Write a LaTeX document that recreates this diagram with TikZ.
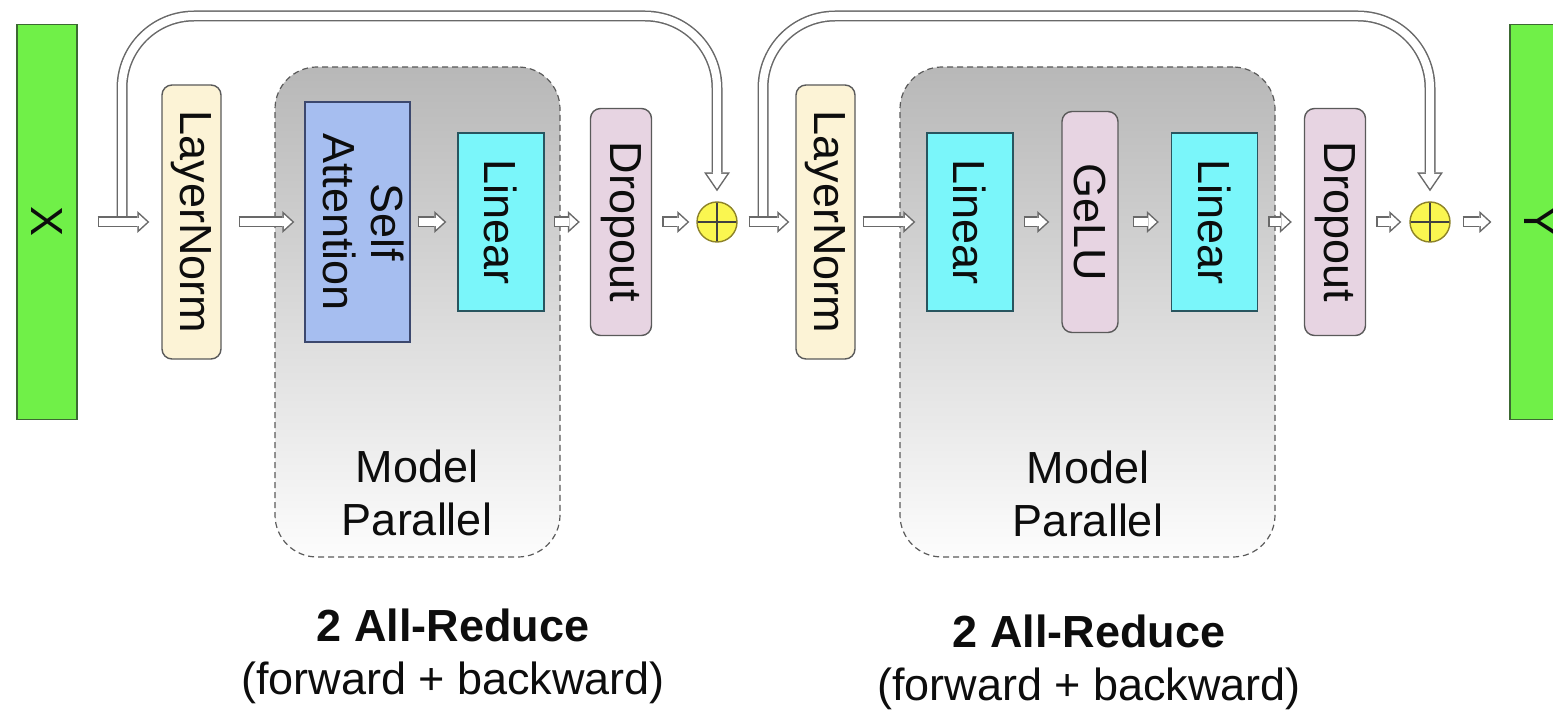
\documentclass[tikz,border=0pt]{standalone}
\usepackage{fontspec}
\setmainfont{Liberation Sans}
\usepackage{graphicx}
\usetikzlibrary{arrows.meta,calc}
\definecolor{inputgreen}{RGB}{112,240,72}
\definecolor{inputdraw}{RGB}{60,105,50}
\definecolor{normcream}{RGB}{252,243,214}
\definecolor{attnblue}{RGB}{166,190,240}
\definecolor{attndraw}{RGB}{60,72,110}
\definecolor{lincyan}{RGB}{122,246,250}
\definecolor{lindraw}{RGB}{40,85,95}
\definecolor{droppink}{RGB}{231,212,226}
\definecolor{sumyellow}{RGB}{250,246,80}
\definecolor{sumdraw}{RGB}{140,130,40}
\definecolor{boxdraw}{RGB}{90,90,90}
\definecolor{pipegray}{RGB}{105,105,105}
\colorlet{textdark}{black!95}

\tikzset{
  txt/.style={font=\fontsize{22.5}{26.5}\selectfont, text=textdark},
  iobox/.style={txt, draw=inputdraw, line width=0.6pt, fill=inputgreen, minimum width=30pt, minimum height=197.5pt, inner sep=0pt},
  normbox/.style={txt, draw=boxdraw, line width=0.7pt, rounded corners=5pt, fill=normcream, minimum width=29.5pt, minimum height=137pt, inner sep=0pt},
  attnbox/.style={txt, font=\fontsize{22.5}{24}\selectfont, draw=attndraw, line width=0.7pt, fill=attnblue, minimum width=52.5pt, minimum height=120pt, inner sep=0pt},
  linbox/.style={txt, draw=lindraw, line width=0.7pt, fill=lincyan, minimum width=43pt, minimum height=89pt, inner sep=0pt},
  dropbox/.style={txt, draw=boxdraw, line width=0.7pt, rounded corners=5pt, fill=droppink, minimum width=30.5pt, minimum height=113.5pt, inner sep=0pt},
  sumnode/.style={circle, draw=sumdraw, line width=0.7pt, fill=sumyellow, minimum size=20pt, inner sep=0pt,
    path picture={\draw[black!75, line width=0.6pt] (path picture bounding box.north) -- (path picture bounding box.south)
      (path picture bounding box.west) -- (path picture bounding box.east);}},
  mpbox/.style={draw=boxdraw, dash pattern=on 3pt off 2pt, line width=0.6pt, rounded corners=21pt,
    top color=black!28, middle color=black!12, bottom color=black!1},
  lbl/.style={txt, align=center},
  flow/.style={draw=pipegray, line width=5.5pt, -{Triangle[length=6pt,width=11pt,line width=0pt]},
    postaction={draw=white, line width=4pt, shorten <=0.75pt, shorten >=1.11pt, -{Triangle[length=4.14pt,width=7.59pt,line width=0pt]}}},
  skip/.style={draw=pipegray, line width=5.5pt, rounded corners=36pt, -{Triangle[length=9.5pt,width=13pt,line width=0pt]},
    postaction={draw=white, line width=4pt, shorten >=1.33pt, -{Triangle[length=7.42pt,width=10.16pt,line width=0pt]}}},
}

\begin{document}
\begin{tikzpicture}[x=0.5pt,y=-0.5pt]
\useasboundingbox (0,0) rectangle (1553,711);
% model parallel regions
\node[mpbox, minimum width=142.5pt, minimum height=245pt] (mp1) at (417.5,312) {};
\node[mpbox, minimum width=187.5pt, minimum height=245pt] (mp2) at (1087.5,312) {};
\node[lbl] (mptext1) at (417,493) {Model\\Parallel};
\node[lbl] (mptext2) at (1088,494) {Model\\Parallel};

% input and output
\node[iobox] (xin) at (47,222) {\rotatebox{-90}{X}};
\node[iobox] (yout) at (1540,222) {\rotatebox{-90}{Y}};

% attention half
\node[normbox] (norm1) at (191.5,222) {\rotatebox{-90}{LayerNorm}};
\node[attnbox] (attn) at (357.5,222) {\rotatebox{-90}{\begin{tabular}{@{}c@{}}Self\\Attention\end{tabular}}};
\node[linbox] (lin1) at (501,222) {\rotatebox{-90}{Linear}};
\node[dropbox] (drop1) at (621,222) {\rotatebox{-90}{Dropout}};
\node[sumnode] (sum1) at (717,222) {};

% mlp half
\node[normbox] (norm2) at (825.5,222) {\rotatebox{-90}{LayerNorm}};
\node[linbox] (lin2) at (970,222) {\rotatebox{-90}{Linear}};
\node[dropbox, minimum width=28pt, minimum height=110.5pt] (gelu) at (1090,222) {\rotatebox{-90}{GeLU}};
\node[linbox] (lin3) at (1214.5,222) {\rotatebox{-90}{Linear}};
\node[dropbox] (drop2) at (1335,222) {\rotatebox{-90}{Dropout}};
\node[sumnode] (sum2) at (1430,222) {};

% all-reduce notes
\node[lbl] (note1) at (453,656) {\textbf{2 All-Reduce}\\(forward + backward)};
\node[lbl] (note2) at (1089,662) {\textbf{2 All-Reduce}\\(forward + backward)};

% residual paths
\coordinate (fork1) at (122,222);
\coordinate (fork2) at (763,222);
\coordinate (top1) at (400,16);
\coordinate (top2) at (1100,16);
\draw[skip] (fork1) |- (top1) -| ([yshift=5pt]sum1.north);
\draw[skip] (fork2) |- (top2) -| ([yshift=5pt]sum2.north);

% main flow
\foreach \a/\b/\s/\e in {xin/norm1/10/6, norm1/attn/8.5/5, attn/lin1/3.5/5.5, lin1/drop1/4.5/5,
    drop1/sum1/5/3.5, sum1/norm2/5.5/3, norm2/lin2/3.5/5.5, lin2/gelu/5/6, gelu/lin3/7/6,
    lin3/drop2/5/6, drop2/sum2/5/4, sum2/yout/6/9}
  \draw[flow] ([xshift=\s pt]\a.east) -- ([xshift=-\e pt]\b.west);
\end{tikzpicture}
\end{document}
